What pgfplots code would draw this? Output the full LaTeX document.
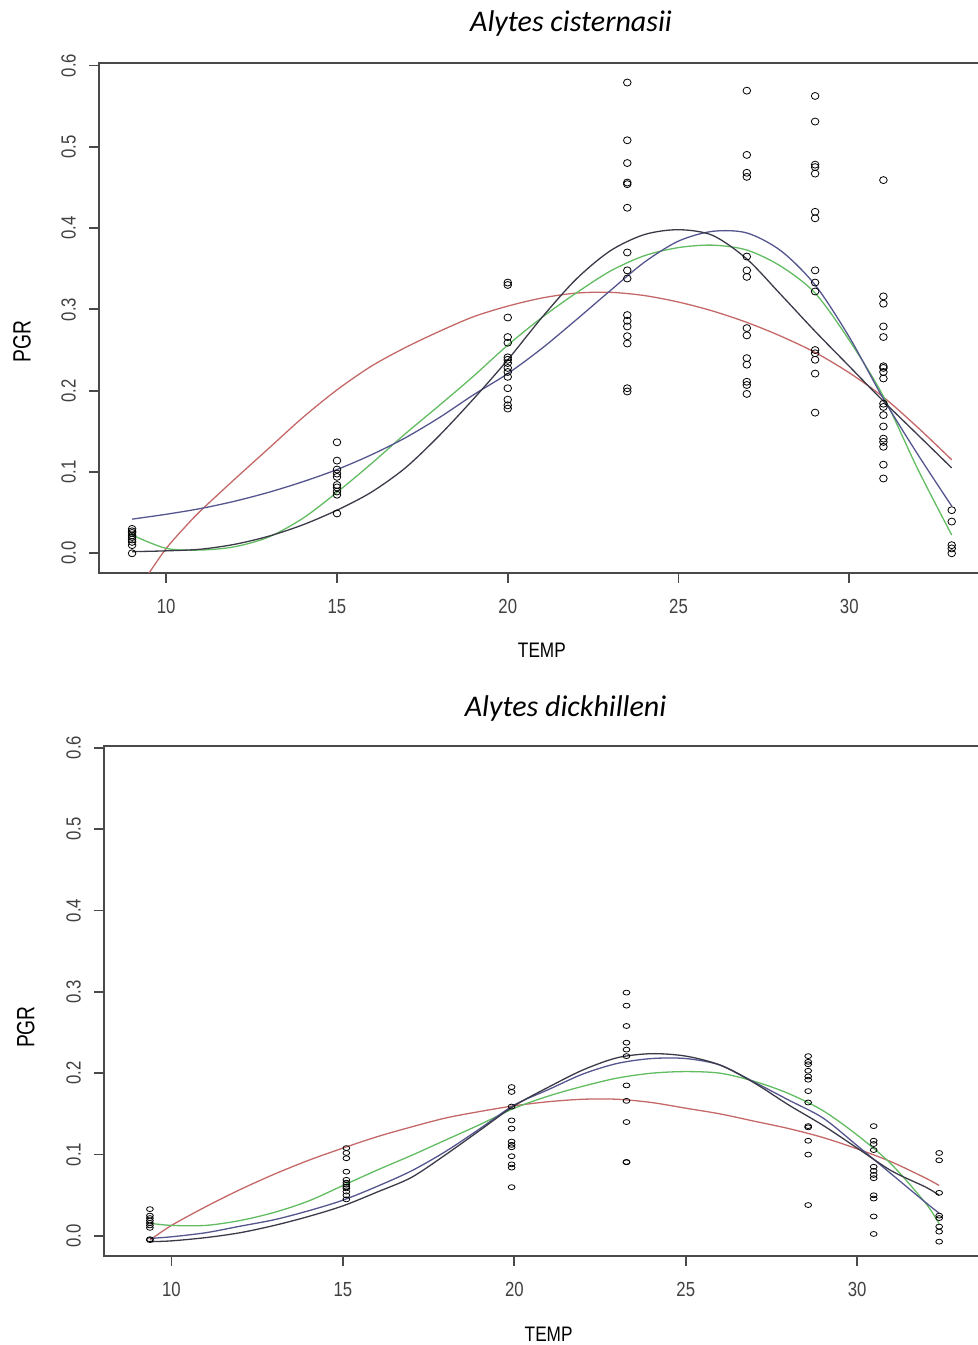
\documentclass[border=0pt]{standalone}
\usepackage{pgfplots}
\pgfplotsset{compat=1.18}
\usepackage{fontspec}
\setmainfont{Liberation Sans}
\newfontfamily\rfont[FakeStretch=0.82]{Liberation Sans}
\newfontfamily\rfontb[FakeStretch=0.77]{Liberation Sans}
\newfontfamily\titlefont{Carlito}
\definecolor{cred}{HTML}{C46868}
\definecolor{cgreen}{HTML}{62BC62}
\definecolor{cblue}{HTML}{55558F}
\definecolor{cdark}{HTML}{3A3A48}
\definecolor{axgray}{HTML}{4A4A4A}
\pgfplotsset{
  rstyle/.style={
    scale only axis,
    axis line style={axgray, line width=0.9pt},
    tick style={axgray, line width=0.9pt},
    major tick length=5pt,
    tick align=outside,
    tick pos=left,
    xtick={10,15,20,25,30},
    ytick={0,0.1,0.2,0.3,0.4,0.5,0.6},
    /pgf/number format/assume math mode=true,
    yticklabel style={/pgf/number format/.cd, fixed, fixed zerofill, precision=1, assume math mode=true, /tikz/.cd,
      rotate=90, anchor=south, inner sep=0pt, font=\rfont\fontsize{10.2}{12}\selectfont, text=black!75},
    xticklabel style={anchor=north, inner sep=0pt, font=\rfont\fontsize{10.2}{12}\selectfont, text=black!75},
    yticklabel shift=6.5pt,
    xticklabel shift=8pt,
    xlabel style={anchor=center, font=\rfont\fontsize{10.5}{12}\selectfont},
    ylabel style={anchor=center, font=\rfontb\fontsize{12.5}{14}\selectfont},
    xlabel={TEMP}, ylabel={PGR},
    xmin=8.04, xmax=33.96,
  },
  pts/.style={only marks, mark=o, mark size=1.9pt, mark options={black!85, line width=0.6pt}},
  crv/.style={line width=0.65pt, smooth, no markers},
}
\begin{document}
\begin{tikzpicture}[x=1pt,y=1pt]
\path[use as bounding box] (0,0) rectangle (489,-672.5);
\clip (0,0) rectangle (489,-672.5);
\node[anchor=base] at (285.5,-15.85) {\titlefont\itshape\fontsize{15}{18}\selectfont Alytes cisternasii};
\node[anchor=base] at (282.75,-358) {\titlefont\itshape\fontsize{15}{18}\selectfont Alytes dickhilleni};

\begin{axis}[rstyle, at={(49.65pt,-31.35pt)}, anchor=north west,
  width=442.6pt, height=255pt, ymin=-0.0239, ymax=0.6034,
  xlabel style={at={(axis description cs:0.5,-0.153)}},
  ylabel style={at={(axis description cs:-0.0873,0.453)}}]
\addplot[pts, mark options={yscale=0.92}] table {
x y
9 0.030
9 0.027
9 0.025
9 0.022
9 0.020
9 0.017
9 0.014
9 0.010
9 0.000
15 0.1365
15 0.114
15 0.103
15 0.098
15 0.094
15 0.084
15 0.081
15 0.076
15 0.072
15 0.049
20 0.333
20 0.330
20 0.290
20 0.266
20 0.259
20 0.241
20 0.238
20 0.234
20 0.228
20 0.223
20 0.217
20 0.203
20 0.189
20 0.182
20 0.178
23.5 0.579
23.5 0.508
23.5 0.480
23.5 0.456
23.5 0.454
23.5 0.425
23.5 0.370
23.5 0.348
23.5 0.338
23.5 0.293
23.5 0.286
23.5 0.279
23.5 0.267
23.5 0.258
23.5 0.203
23.5 0.199
27 0.569
27 0.490
27 0.468
27 0.463
27 0.365
27 0.348
27 0.340
27 0.277
27 0.268
27 0.240
27 0.232
27 0.211
27 0.207
27 0.196
29 0.5625
29 0.531
29 0.478
29 0.475
29 0.467
29 0.420
29 0.412
29 0.348
29 0.333
29 0.322
29 0.250
29 0.246
29 0.238
29 0.221
29 0.173
31 0.459
31 0.316
31 0.307
31 0.279
31 0.266
31 0.230
31 0.228
31 0.223
31 0.215
31 0.184
31 0.180
31 0.170
31 0.156
31 0.141
31 0.137
31 0.131
31 0.109
31 0.092
33 0.053
33 0.039
33 0.010
33 0.006
33 0.000
};
\addplot[crv, cred] coordinates {(9,-0.055) (9.5,-0.024) (10,0.006) (10.5,0.030) (11,0.052) (12,0.091) (13,0.129) (14,0.167) (15,0.201) (16,0.230) (17,0.253) (18,0.273) (19,0.291) (20,0.304) (21,0.314) (22,0.320) (23,0.321) (24,0.317) (25,0.309) (26,0.298) (27,0.284) (28,0.267) (29,0.247) (30,0.222) (31,0.192) (32,0.155) (33,0.115)};
\addplot[crv, cgreen] coordinates {(9,0.0225) (10,0.006) (11,0.004) (12,0.008) (13,0.020) (14,0.043) (15,0.075) (16,0.110) (17,0.147) (18,0.182) (19,0.218) (20,0.256) (21,0.290) (22,0.320) (23,0.347) (24,0.366) (25,0.376) (26,0.379) (27,0.373) (28,0.353) (29,0.320) (30,0.262) (31,0.193) (32,0.104) (33,0.0225)};
\addplot[crv, cblue] coordinates {(9,0.042) (10,0.048) (11,0.055) (12,0.064) (13,0.075) (14,0.088) (15,0.103) (16,0.121) (17,0.142) (18,0.167) (19,0.195) (20,0.221) (21,0.252) (22,0.287) (23,0.323) (24,0.358) (25,0.384) (26,0.396) (27,0.394) (28,0.372) (29,0.330) (30,0.266) (31,0.190) (32,0.122) (33,0.058)};
\addplot[crv, cdark] coordinates {(9,0.002) (10,0.003) (11,0.005) (12,0.011) (13,0.021) (14,0.035) (15,0.053) (16,0.075) (17,0.105) (18,0.145) (19,0.190) (20,0.238) (21,0.290) (22,0.337) (23,0.372) (24,0.392) (25,0.398) (26,0.391) (27,0.362) (28,0.318) (29,0.273) (30,0.230) (31,0.187) (32,0.146) (33,0.105)};
\end{axis}

\begin{axis}[rstyle, at={(52.15pt,-373pt)}, anchor=north west,
  width=444.35pt, height=255pt, ymin=-0.0246, ymax=0.602,
  xlabel style={at={(axis description cs:0.5,-0.153)}},
  ylabel style={at={(axis description cs:-0.0884,0.449)}}]
\addplot[pts, mark size=1.7pt, mark options={yscale=0.72}] table {
x y
9.37 0.033
9.37 0.025
9.37 0.022
9.37 0.019
9.37 0.016
9.37 0.013
9.37 0.010
9.37 -0.005
9.37 -0.004
15.1 0.108
15.1 0.102
15.1 0.0955
15.1 0.079
15.1 0.069
15.1 0.0655
15.1 0.063
15.1 0.0605
15.1 0.0585
15.1 0.0545
15.1 0.050
15.1 0.045
19.92 0.183
19.92 0.177
19.92 0.159
19.92 0.142
19.92 0.132
19.92 0.116
19.92 0.112
19.92 0.109
19.92 0.098
19.92 0.088
19.92 0.084
19.92 0.060
23.27 0.299
23.27 0.283
23.27 0.258
23.27 0.2375
23.27 0.229
23.27 0.221
23.27 0.185
23.27 0.166
23.27 0.140
23.27 0.0905
23.27 0.091
28.57 0.221
28.57 0.214
28.57 0.211
28.57 0.203
28.57 0.196
28.57 0.192
28.57 0.178
28.57 0.164
28.57 0.135
28.57 0.1335
28.57 0.117
28.57 0.100
28.57 0.038
30.48 0.135
30.48 0.117
30.48 0.113
30.48 0.1056
30.48 0.085
30.48 0.080
30.48 0.075
30.48 0.071
30.48 0.050
30.48 0.046
30.48 0.024
30.48 0.0025
32.39 0.102
32.39 0.093
32.39 0.053
32.39 0.025
32.39 0.022
32.39 0.0115
32.39 0.0053
32.39 -0.007
};
\addplot[crv, cred] coordinates {(9.37,-0.005) (10,0.013) (11,0.036) (12,0.057) (13,0.076) (14,0.093) (15,0.108) (16,0.122) (17,0.134) (18,0.145) (19,0.153) (20,0.160) (21,0.165) (22,0.168) (23,0.168) (24,0.164) (25,0.157) (26,0.150) (27,0.141) (28,0.132) (29,0.121) (30,0.107) (31,0.091) (32,0.071) (32.39,0.062)};
\addplot[crv, cgreen] coordinates {(9.37,0.0156) (10,0.013) (11,0.013) (12,0.019) (13,0.029) (14,0.043) (15,0.062) (16,0.081) (17,0.099) (18,0.118) (19,0.137) (20,0.157) (21,0.172) (22,0.184) (23,0.194) (24,0.200) (25,0.202) (26,0.200) (27,0.190) (28,0.175) (29,0.154) (30,0.124) (31,0.088) (32,0.040) (32.39,0.015)};
\addplot[crv, cblue] coordinates {(9.37,-0.003) (10,-0.001) (11,0.004) (12,0.012) (13,0.020) (14,0.031) (15,0.044) (16,0.061) (17,0.080) (18,0.104) (19,0.132) (20,0.161) (21,0.180) (22,0.199) (23,0.212) (24,0.218) (25,0.218) (26,0.210) (27,0.189) (28,0.167) (29,0.145) (30,0.111) (31,0.076) (32,0.041) (32.39,0.028)};
\addplot[crv, cdark] coordinates {(9.37,-0.007) (10,-0.006) (11,-0.002) (12,0.004) (13,0.013) (14,0.024) (15,0.037) (16,0.054) (17,0.072) (18,0.100) (19,0.130) (20,0.160) (21,0.183) (22,0.204) (23,0.219) (24,0.224) (25,0.221) (26,0.210) (27,0.188) (28,0.161) (29,0.136) (30,0.108) (31,0.080) (32,0.060) (32.39,0.050)};
\end{axis}
\end{tikzpicture}
\end{document}
